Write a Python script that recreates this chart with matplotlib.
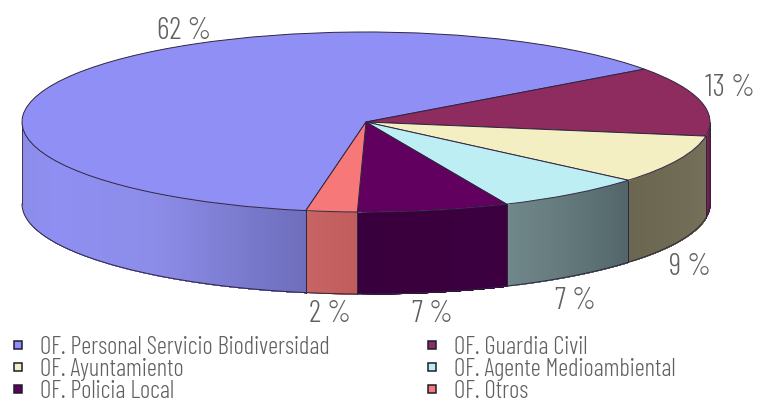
import numpy as np
import matplotlib
matplotlib.use("Agg")
import matplotlib.pyplot as plt
from matplotlib.lines import Line2D
from matplotlib.colors import to_rgb

categories = ["OF. Personal Servicio Biodiversidad", "OF. Guardia Civil", "OF. Ayuntamiento",
              "OF. Agente Medioambiental", "OF. Policia Local", "OF. Otros"]
values = [62.2, 12.5, 8.7, 7.1, 7.1, 2.4]
value_labels = ["62 %", "13 %", "9 %", "7 %", "7 %", "2 %"]
top_colors = ["#8f8ff5", "#8e2c5f", "#f3efc2", "#bdeef3", "#62005f", "#f67878"]
wall_stops = [["#8b8be6", "#8f8ff3", "#8c8ce8", "#6e6ebc"],
              ["#7a2452", "#5a1a40"],
              ["#6a6650", "#75715a"],
              ["#71888a", "#52666a"],
              ["#38003c", "#3c0040"],
              ["#c86464", "#c05c5c"]]
label_px = [(184, 31), (730, 88), (690, 267), (575, 301), (432, 314), (330, 314)]

W, H = 761, 403
fig = plt.figure(figsize=(W / 100, H / 100), dpi=100, facecolor="white")
family = ["Barlow Condensed", "Roboto", "DejaVu Sans"]
text_color = "#606060"
edge = "#2f2540"

L, R, T, B = 22, 710, 32, 212
ax = fig.add_axes([L / W, 1 - B / H, (R - L) / W, (B - T) / H])
END = 36
START = END + float(values[0]) / sum(values) * 360
DEPTH = 82 / 90

wedges, _ = ax.pie(values, startangle=START, counterclock=False, colors=top_colors,
                   radius=1, center=(0, 0), frame=False, normalize=True,
                   wedgeprops=dict(edgecolor=edge, linewidth=0.7, clip_on=False, zorder=5))
ax.set_aspect("auto")
ax.set_xlim(-1, 1)
ax.set_ylim(-1, 1)
ax.axis("off")

fracs = np.array(values) / np.sum(values) * 360
a0 = START
for v, stops in zip(fracs, wall_stops):
    hi = ((a0 + 180) % 360) - 180
    lo = hi - v
    a0 -= v
    vis_lo = max(lo, -180)
    vis_hi = min(hi, 0)
    if vis_hi <= vis_lo:
        continue
    angs = np.linspace(vis_lo, vis_hi, int((vis_hi - vis_lo) * 1.5) + 2)
    cols = np.array([to_rgb(c) for c in stops])
    pos = np.linspace(0, 1, len(stops))
    # each strip reaches to the slice's right end, so the next strip paints over it without seams
    for i in range(len(angs) - 1):
        t = (i + 0.5) / (len(angs) - 1)
        c = [np.interp(t, pos, cols[:, k]) for k in range(3)]
        th = np.radians(angs[i:])
        x = np.cos(th)
        y = np.sin(th)
        ax.fill_between(x, y - DEPTH, y, color=c, linewidth=0, clip_on=False, zorder=2)
    th = np.radians(np.linspace(vis_lo, vis_hi, 200))
    ax.plot(np.cos(th), np.sin(th) - DEPTH, color=edge, lw=0.7, clip_on=False, zorder=3)
    for e in (vis_lo, vis_hi):
        xe, ye = np.cos(np.radians(e)), np.sin(np.radians(e))
        ax.plot([xe, xe], [ye, ye - DEPTH], color=edge, lw=0.6, clip_on=False, zorder=3)

for txt, (px, py) in zip(value_labels, label_px):
    fig.text(px / W, 1 - py / H, txt, ha="center", va="center", fontsize=22,
             family=family, weight=300, color=text_color)

order = [0, 2, 4, 1, 3, 5]
handles = [Line2D([], [], linestyle="none", marker="s", markersize=6.2, markerfacecolor=top_colors[i],
                  markeredgecolor="#1c1c30", markeredgewidth=1.1) for i in order]
labels = [categories[i] for i in order]
leg = fig.legend(handles, labels, ncol=2, loc="upper left", bbox_to_anchor=(12 / W, 1 - 336 / H),
                 frameon=False, prop=dict(family=family, size=17.8, weight=300), labelcolor=text_color,
                 handletextpad=0.66, labelspacing=-0.05, columnspacing=3.9, borderpad=0,
                 borderaxespad=0, handlelength=0.46)

fig.savefig("out.png", dpi=100, facecolor="white")
